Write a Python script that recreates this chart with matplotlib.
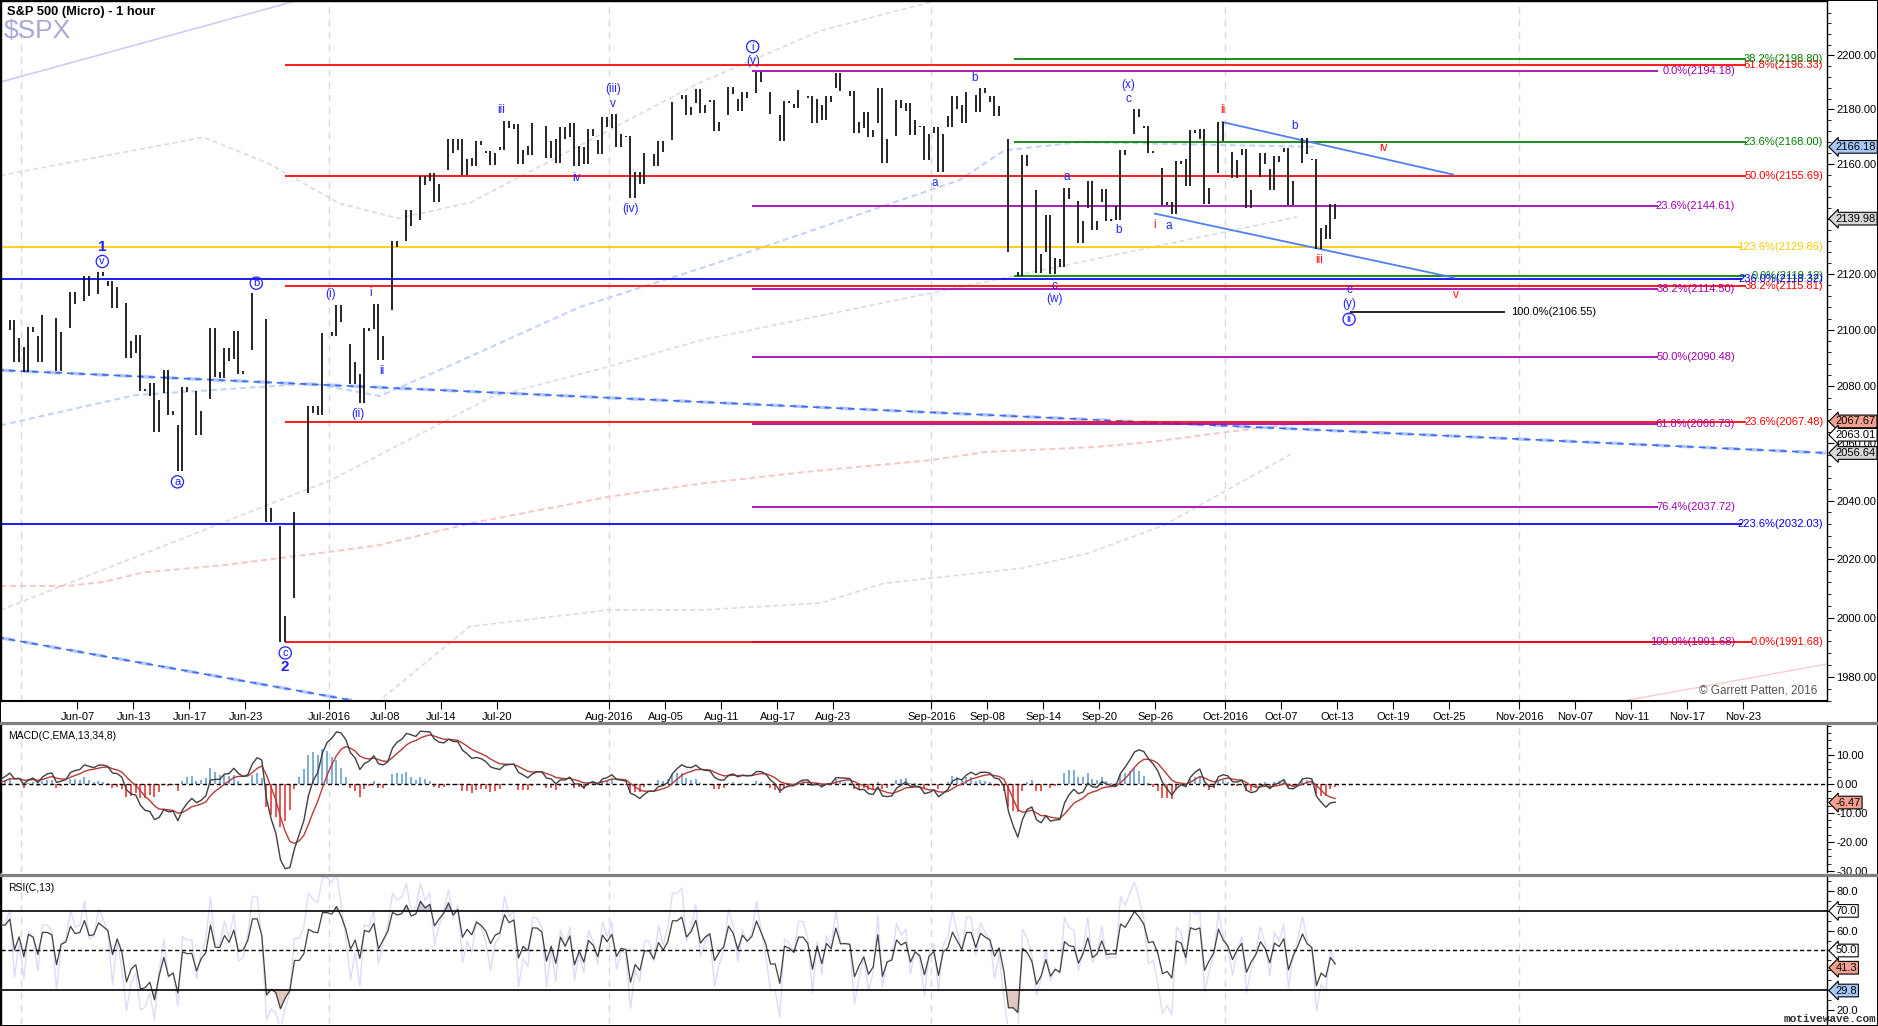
import numpy as np
import matplotlib
matplotlib.use('Agg')
import matplotlib.pyplot as plt
import matplotlib.transforms as mtransforms
from matplotlib.ticker import FixedLocator, FixedFormatter, NullFormatter

plt.rcParams['font.family'] = ['Liberation Sans', 'DejaVu Sans']

# trading calendar (index 0 = 2016-06-01)
holidays = ['2016-05-30', '2016-07-04', '2016-09-05', '2016-11-24']
base_day = '2016-06-01'

def tidx(d):
    return np.busday_count(base_day, d, holidays=holidays)

all_days = np.arange('2016-05-27', '2016-10-13', dtype='datetime64[D]')
days = all_days[np.is_busday(all_days, holidays=holidays)]

# daily S&P 500 values (May 27 .. Oct 12 2016)
opens = [2090.06, 2100.13,
    2093.94, 2097.71, 2104.07, 2100.83, 2110.18, 2112.71, 2115.65, 2109.57, 2091.75, 2076.65, 2077.60,
    2066.36, 2078.20, 2075.58, 2085.19, 2089.75, 2092.80, 2103.81, 2031.45, 2006.67, 2042.69, 2073.17,
    2099.34, 2095.05, 2084.43, 2100.42, 2106.97, 2131.72, 2139.50, 2153.81, 2157.88, 2165.13, 2162.04,
    2163.79, 2166.10, 2172.91, 2166.47, 2173.71, 2168.97, 2169.81, 2166.05, 2168.83,
    2173.15, 2169.94, 2156.81, 2163.51, 2168.79, 2183.76, 2182.24, 2182.81, 2177.97, 2183.74, 2186.08,
    2186.24, 2177.84, 2181.90, 2184.24, 2181.58, 2187.81, 2185.09, 2173.29, 2175.10, 2170.19, 2179.45, 2173.56,
    2171.33, 2177.49, 2181.61, 2185.17, 2182.76, 2169.08, 2120.86, 2150.47, 2127.86, 2125.36, 2146.48,
    2143.99, 2145.94, 2144.58, 2170.94, 2173.29, 2158.54, 2146.04, 2161.85, 2168.90, 2156.51,
    2164.33, 2163.37, 2155.15, 2158.22, 2164.19, 2160.39, 2161.35, 2137.67]
highs = [2099.06, 2103.48,
    2100.97, 2105.26, 2104.07, 2113.36, 2119.22, 2120.55, 2117.64, 2109.57, 2098.12, 2081.30, 2085.65,
    2079.62, 2078.20, 2100.66, 2093.66, 2099.71, 2113.32, 2103.81, 2031.45, 2036.09, 2073.13, 2098.94,
    2108.71, 2095.05, 2100.72, 2109.08, 2131.71, 2143.16, 2155.40, 2156.45, 2169.05, 2169.05, 2168.35,
    2164.63, 2175.63, 2174.56, 2175.11, 2173.71, 2173.54, 2174.98, 2172.85, 2177.09,
    2178.29, 2170.20, 2163.79, 2168.19, 2182.87, 2185.44, 2187.66, 2183.41, 2188.45, 2186.28, 2193.81,
    2186.24, 2183.08, 2187.03, 2185.00, 2184.93, 2193.42, 2186.66, 2179.00, 2187.94, 2183.48, 2182.27, 2173.79,
    2173.56, 2184.87, 2186.57, 2187.87, 2184.94, 2169.08, 2163.30, 2150.47, 2141.33, 2151.31, 2146.48,
    2153.61, 2150.80, 2165.11, 2179.99, 2173.75, 2158.54, 2161.13, 2172.40, 2172.67, 2175.30,
    2164.41, 2165.46, 2163.95, 2162.93, 2165.86, 2169.60, 2161.56, 2145.36]
lows = [2090.06, 2088.66,
    2085.10, 2088.59, 2085.36, 2100.83, 2110.18, 2112.71, 2107.73, 2089.96, 2078.46, 2064.10, 2069.80,
    2050.37, 2062.84, 2075.58, 2083.02, 2084.36, 2092.80, 2032.57, 1991.68, 2006.67, 2042.69, 2070.00,
    2097.90, 2080.86, 2074.02, 2089.39, 2106.97, 2131.72, 2139.50, 2146.21, 2157.88, 2155.79, 2159.07,
    2159.40, 2164.89, 2159.75, 2163.24, 2161.95, 2160.18, 2159.07, 2159.74, 2163.49,
    2166.21, 2147.58, 2152.53, 2159.07, 2168.79, 2177.85, 2178.61, 2172.00, 2177.97, 2179.42, 2186.08,
    2178.14, 2168.50, 2180.46, 2175.13, 2175.96, 2186.80, 2171.25, 2169.74, 2160.39, 2170.19, 2170.41, 2161.35,
    2157.09, 2173.59, 2175.10, 2179.07, 2177.49, 2127.81, 2119.12, 2120.27, 2119.90, 2122.36, 2131.20,
    2135.91, 2139.17, 2139.57, 2170.94, 2163.97, 2145.04, 2141.55, 2151.79, 2145.20, 2156.51,
    2154.77, 2144.01, 2155.15, 2150.28, 2144.85, 2160.39, 2128.84, 2132.77]
closes = [2099.06, 2096.95,
    2099.33, 2105.26, 2099.13, 2109.41, 2112.13, 2119.12, 2115.48, 2096.07, 2079.06, 2075.32, 2071.50,
    2077.99, 2071.22, 2083.25, 2088.90, 2085.45, 2113.32, 2037.41, 2000.54, 2036.09, 2070.77, 2098.86,
    2102.95, 2088.55, 2099.73, 2097.90, 2129.90, 2137.16, 2152.14, 2152.43, 2163.75, 2161.74, 2166.89,
    2163.78, 2173.02, 2165.17, 2175.03, 2168.48, 2169.18, 2166.58, 2170.06, 2173.60,
    2170.84, 2157.03, 2163.79, 2164.25, 2182.87, 2180.89, 2181.74, 2175.49, 2185.79, 2184.05, 2190.15,
    2178.15, 2182.22, 2187.02, 2183.87, 2182.64, 2186.90, 2175.44, 2172.47, 2169.04, 2180.38, 2176.12, 2170.95,
    2170.86, 2179.98, 2186.48, 2186.16, 2181.30, 2127.81, 2159.04, 2127.02, 2125.77, 2147.26, 2139.16,
    2139.12, 2139.76, 2163.12, 2177.18, 2164.69, 2146.10, 2159.93, 2171.37, 2151.13, 2168.27,
    2161.20, 2150.49, 2159.73, 2160.77, 2153.74, 2163.66, 2136.73, 2139.98]

# fibonacci levels: (value, label, colour, start day, line end, label end)
fib_levels = [
    (2196.33, '61.8%(2196.33)', '#ff0000', 18.8, 123.2, 128.7),
    (2155.69, '50.0%(2155.69)', '#ff0000', 18.8, 123.2, 128.7),
    (2115.81, '38.2%(2115.81)', '#ff0000', 18.8, 123.2, 128.7),
    (2067.48, '23.6%(2067.48)', '#ff0000', 18.8, 123.2, 128.7),
    (2198.80, '38.2%(2198.80)', '#008000', 70.9, 123.2, 128.7),
    (2168.00, '23.6%(2168.00)', '#008000', 70.9, 123.2, 128.7),
    (2119.12, '0.0%(2119.12)', '#008000', 70.9, 123.2, 128.7),
    (2118.32, '236.0%(2118.32)', '#0000ff', -1.5, 122.9, 128.7),
    (2032.03, '223.6%(2032.03)', '#0000ff', -1.5, 122.9, 128.7),
    (2129.86, '123.6%(2129.86)', '#ffcc00', -1.5, 122.8, 128.7),
    (2194.18, '0.0%(2194.18)', '#a000b0', 52.2, 116.9, 122.4),
    (2144.61, '23.6%(2144.61)', '#a000b0', 52.2, 116.9, 122.4),
    (2114.50, '38.2%(2114.50)', '#a000b0', 52.2, 116.9, 122.4),
    (2090.48, '50.0%(2090.48)', '#a000b0', 52.2, 116.9, 122.4),
    (2066.73, '61.8%(2066.73)', '#a000b0', 52.2, 116.9, 122.4),
    (2037.72, '76.4%(2037.72)', '#a000b0', 52.2, 116.9, 122.4),
    (1991.68, '100.0%(1991.68)', '#a000b0', 52.2, 116.9, 122.4),
    (1991.68, '0.0%(1991.68)', '#ff0000', 18.8, 123.6, 128.7),
]
black_level = (2106.55, '100.0%(2106.55)', 94.9, 106.0)

# wave labels: text, day, price, colour, style
waves = [
    ('1', 5.77, 2129.7, 'b', 'bold'), ('v', 5.77, 2124.5, 'b', 'circ'),
    ('b', 16.77, 2116.7, 'b', 'circ'), ('a', 11.14, 2046.6, 'b', 'circ'),
    ('c', 18.84, 1988.1, 'b', 'circ'), ('2', 18.79, 1983.2, 'b', 'bold'),
    ('(i)', 22.07, 2112.7, 'b', ''), ('i', 24.96, 2113.2, 'b', ''),
    ('ii', 25.76, 2085.4, 'b', ''), ('(ii)', 24.04, 2070.2, 'b', ''),
    ('iii', 34.24, 2179.6, 'b', ''), ('iv', 39.64, 2154.7, 'b', ''),
    ('(iii)', 42.25, 2187.4, 'b', ''), ('v', 42.25, 2182.1, 'b', ''),
    ('(iv)', 43.53, 2143.6, 'b', ''), ('i', 52.23, 2203.3, 'b', 'circ'),
    ('(v)', 52.23, 2197.8, 'b', ''), ('b', 68.07, 2191.7, 'b', ''),
    ('a', 65.21, 2152.9, 'b', ''), ('(x)', 79.05, 2189.1, 'b', ''),
    ('c', 79.05, 2183.9, 'b', ''), ('a', 74.64, 2155.1, 'b', ''),
    ('b', 78.38, 2135.7, 'b', ''), ('c', 73.79, 2115.7, 'b', ''),
    ('(w)', 73.79, 2110.9, 'b', ''), ('i', 80.96, 2137.5, 'r', ''),
    ('a', 81.95, 2137.3, 'b', ''), ('ii', 85.81, 2179.6, 'r', ''),
    ('b', 90.91, 2173.7, 'b', ''), ('iv', 97.29, 2165.7, 'r', ''),
    ('iii', 92.66, 2124.9, 'r', ''), ('c', 94.83, 2114.2, 'b', ''),
    ('(y)', 94.83, 2109.1, 'b', ''), ('ii', 94.83, 2103.8, 'b', 'circ'),
    ('v', 102.43, 2112.6, 'r', ''),
]

# moving-average style overlays (day, price)
ma_gray_top_x = [-1.5, 13.0, 17.6, 22.7, 26.9, 32.1, 48.5, 57.1, 65.4, 70.0]
ma_gray_top_y = [2155.7, 2169.7, 2160.2, 2145.5, 2140.1, 2145.9, 2190.0, 2209.3, 2220.6, 2230.0]
ma_gray_mid_x = [-1.5, 22.1, 33.6, 41.9, 48.5, 70.8, 91.1]
ma_gray_mid_y = [2002.6, 2047.2, 2076.3, 2086.9, 2096.3, 2119.2, 2140.6]
ma_gray_low_x = [22.0, 25.6, 32.0, 41.9, 48.5, 57.1, 61.6, 71.4, 76.2, 81.6, 90.75]
ma_gray_low_y = [1960.0, 1972.2, 1997.0, 2002.6, 2002.6, 2005.0, 2011.7, 2016.8, 2022.0, 2031.6, 2056.4]
ma_blue_x = [-1.5, 8.1, 20.8, 25.6, 30.4, 39.9, 48.5, 67.0, 70.2, 75.6, 92.5]
ma_blue_y = [2066.3, 2076.9, 2081.0, 2076.6, 2086.9, 2108.2, 2122.0, 2154.0, 2164.9, 2167.9, 2166.18]
ma_pink_x = [-1.5, 3.3, 5.9, 8.7, 14.4, 22.1, 25.6, 32.0, 41.9, 48.5, 57.1, 64.9, 68.9, 76.6, 80.7, 86.0, 92.5]
ma_pink_y = [2010.8, 2010.8, 2012.2, 2015.4, 2017.9, 2022.5, 2024.8, 2032.2, 2041.4, 2046.0, 2050.6,
             2054.1, 2057.0, 2058.7, 2060.5, 2063.9, 2067.67]

# trend lines (day, price)
trend_a = ([-1.5, 128.9], [2085.7, 2056.64])
trend_b = ([-1.5, 23.6], [1993.2, 1972.2])
lav_line = ([-1.5, 19.7], [2190.1, 2220.6])
pink_line = ([114.2, 128.9], [1971.8, 1984.3])
chan_up = ([85.79, 102.29], [2175.3, 2156.0])
chan_dn = ([80.96, 102.29], [2141.8, 2118.7])

tick_dates = ['2016-06-07', '2016-06-13', '2016-06-17', '2016-06-23', '2016-07-01', '2016-07-08',
              '2016-07-14', '2016-07-20', '2016-08-01', '2016-08-05', '2016-08-11', '2016-08-17',
              '2016-08-23', '2016-09-01', '2016-09-08', '2016-09-14', '2016-09-20', '2016-09-26',
              '2016-10-03', '2016-10-07', '2016-10-13', '2016-10-19', '2016-10-25', '2016-11-01',
              '2016-11-07', '2016-11-11', '2016-11-17', '2016-11-23']
tick_labels = ['Jun-07', 'Jun-13', 'Jun-17', 'Jun-23', 'Jul-2016', 'Jul-08', 'Jul-14', 'Jul-20',
               'Aug-2016', 'Aug-05', 'Aug-11', 'Aug-17', 'Aug-23', 'Sep-2016', 'Sep-08', 'Sep-14',
               'Sep-20', 'Sep-26', 'Oct-2016', 'Oct-07', 'Oct-13', 'Oct-19', 'Oct-25', 'Nov-2016',
               'Nov-07', 'Nov-11', 'Nov-17', 'Nov-23']
month_starts = ['2016-06-01', '2016-07-01', '2016-08-01', '2016-09-01', '2016-10-03', '2016-11-01']

# --- build intraday sub-bars: O -> first extreme -> second extreme -> C
day_x = np.array([tidx(str(d)) for d in days], dtype=float)
sub_x, sub_lo, sub_hi, sub_c = [], [], [], []
for d, o, h, l, c in zip(day_x, opens, highs, lows, closes):
    path = [o, l, h, c] if c >= o else [o, h, l, c]
    for k in range(3):
        sub_x.append(d + (k + 0.5) / 3)
        sub_lo.append(min(path[k], path[k + 1]))
        sub_hi.append(max(path[k], path[k + 1]))
        sub_c.append(path[k + 1])
sub_x = np.array(sub_x); sub_c = np.array(sub_c)

scale = 3 / 7.0  # sub-bars per hourly bar

def ema(v, n):
    a = 2.0 / (n + 1)
    out = np.empty_like(v)
    out[0] = v[0]
    for i in range(1, len(v)):
        out[i] = a * v[i] + (1 - a) * out[i - 1]
    return out

def rsi(v, n):
    dv = np.diff(v, prepend=v[0])
    g = np.clip(dv, 0, None); ls = np.clip(-dv, 0, None)
    k = int(round(n))
    ag = np.empty_like(v); al = np.empty_like(v)
    ag[0] = g[1:k + 1].mean(); al[0] = ls[1:k + 1].mean()
    a = 1.0 / n
    for i in range(1, len(v)):
        ag[i] = a * g[i] + (1 - a) * ag[i - 1]
        al[i] = a * ls[i] + (1 - a) * al[i - 1]
    return 100 - 100 / (1 + ag / np.maximum(al, 1e-9))

macd = ema(sub_c, 13 * scale) - ema(sub_c, 34 * scale)
signal = ema(macd, 8 * scale * 1.8)
hist = macd - signal
rsi_main = rsi(sub_c, 8)
rsi_fast = rsi(sub_c, 4)

# --- figure
W, H = 1878, 1026
fig = plt.figure(figsize=(W / 100, H / 100), dpi=100)
def fy(py):
    return 1 - py / H
axw = 1826 / W
ax = fig.add_axes([0.5 / W, fy(701), axw, fy(0.5) - fy(701)])
axm = fig.add_axes([0.5 / W, fy(872), axw, fy(724) - fy(872)])
axr = fig.add_axes([0.5 / W, fy(1024), axw, fy(876) - fy(1024)])

xl = (-1.5, 128.93)
for a in (ax, axm, axr):
    a.set_xlim(*xl)
    for s in a.spines.values():
        s.set_color('black'); s.set_linewidth(1)
    for m in month_starts:
        a.axvline(tidx(m), color='#dadada', lw=1, ls=(0, (5, 4)), zorder=0)

# main panel
ax.set_yscale('log')
ax.set_ylim(1971.96, 2220.6)
ax.yaxis.tick_right()
majors = list(range(1980, 2201, 20))
ax.yaxis.set_major_locator(FixedLocator(majors))
ax.yaxis.set_major_formatter(FixedFormatter(['%.2f' % v for v in majors]))
ax.yaxis.set_minor_locator(FixedLocator([v for v in range(1972, 2220, 4) if v % 20]))
ax.yaxis.set_minor_formatter(NullFormatter())
ax.tick_params(axis='y', which='major', direction='out', length=5, labelsize=8, pad=2)
ax.tick_params(axis='y', which='minor', direction='out', length=3)
ax.set_xticks([tidx(d) for d in tick_dates])
ax.set_xticklabels(tick_labels, fontsize=8)
ax.tick_params(axis='x', direction='out', length=6, pad=2)
ax.spines['bottom'].set_linewidth(1.5)

ax.plot(*lav_line, color='#ccccf6', lw=1.2, zorder=1)
ax.plot(*pink_line, color='#f8cccc', lw=1, zorder=1)
for mx, my in ((ma_gray_top_x, ma_gray_top_y), (ma_gray_mid_x, ma_gray_mid_y), (ma_gray_low_x, ma_gray_low_y)):
    ax.plot(mx, my, color='#dcdcdc', lw=1.2, ls=(0, (3, 2)), zorder=1)
ax.plot(ma_blue_x, ma_blue_y, color='#c0d0f8', lw=1.4, ls=(0, (3, 2)), zorder=1)
ax.plot(ma_pink_x, ma_pink_y, color='#f8c4c4', lw=1.4, ls=(0, (3, 2)), zorder=1)
for tl in (trend_a, trend_b):
    ax.plot(*tl, color='#b4c6fa', lw=2.4, ls=(0, (4, 3)), zorder=1.5)
    ax.plot(*tl, color='#3a6cf0', lw=1.2, ls=(2, (4, 3)), zorder=1.6)

for val, lab, col, x0, x1, xt in fib_levels:
    ax.hlines(val, x0, x1, color=col, lw=1.25, zorder=2 if col != '#ff0000' else 2.2)
    ax.text(xt, val, lab, color=col, fontsize=8, ha='right', va='center', zorder=3)
bv, bl, bx0, bx1 = black_level
ax.hlines(bv, bx0, bx1, color='black', lw=1.2, zorder=2)
ax.text(bx1 + 0.4, bv, bl, color='black', fontsize=8, ha='left', va='center')

ax.plot(*chan_up, color='#5080f0', lw=1.3, zorder=2.5)
ax.plot(*chan_dn, color='#5080f0', lw=1.3, zorder=2.5)

ax.vlines(sub_x, sub_lo, sub_hi, color='black', lw=1.2, zorder=4)

colmap = {'b': '#2020ff', 'r': '#ff1010'}
for t, x, y, c, st in waves:
    kw = dict(color=colmap[c], ha='center', va='center', fontsize=8.5, zorder=5)
    if st == 'bold':
        kw.update(fontsize=11, weight='bold')
    if st == 'circ':
        kw.update(fontsize=8, bbox=dict(boxstyle='circle,pad=0.1', fc='none', ec=colmap[c], lw=0.9))
    ax.text(x, y, t, **kw)

ax.text(0.995, 0.0147, '\u00a9 Garrett Patten, 2016', transform=ax.transAxes,
        ha='right', va='center', fontsize=8.5, color='#555555')

def tag(a, val, txt, fc):
    tr = mtransforms.blended_transform_factory(a.transAxes, a.transData)
    a.text(1.0 + 9 / 1826, val, txt, transform=tr, ha='left', va='center', fontsize=8,
           clip_on=False, zorder=10,
           bbox=dict(boxstyle='larrow,pad=0.12', fc=fc, ec='black', lw=0.8))

tag(ax, 2166.18, '2166.18', '#a8c8f8')
tag(ax, 2139.98, '2139.98', '#d8d8d8')
tag(ax, 2067.67, '2067.67', '#f4a090')
tag(ax, 2063.01, '2063.01', 'white')
tag(ax, 2056.64, '2056.64', '#d8d8d8')

# MACD panel
axm.set_ylim(-30.4, 20.6)
axm.yaxis.tick_right()
axm.set_yticks([-30, -20, -10, 0, 10])
axm.set_yticklabels(['-30.00', '-20.00', '-10.00', '0.00', '10.00'])
axm.yaxis.set_minor_locator(FixedLocator(np.arange(-30, 20.1, 2.5)))
axm.tick_params(axis='y', which='major', direction='out', length=5, labelsize=8, pad=2)
axm.tick_params(axis='y', which='minor', direction='out', length=3)
axm.set_xticks([])
axm.spines['top'].set_visible(False); axm.spines['bottom'].set_visible(False)
axm.axhline(0, color='black', lw=1, ls=(0, (3, 2)), zorder=2)
axm.vlines(sub_x, 0, hist, colors=np.where(hist >= 0, '#5a96cc', '#e02828'), lw=1.1, zorder=1)
axm.plot(sub_x, signal, color='#b83a3a', lw=1, zorder=3)
axm.plot(sub_x, macd, color='#404040', lw=1, zorder=3)
axm.text(0.004, 0.92, 'MACD(C,EMA,13,34,8)', transform=axm.transAxes, fontsize=7.5, va='center')
tag(axm, -6.47, '-6.47', '#f4a090')

# RSI panel
axr.set_ylim(12.9, 87.6)
axr.yaxis.tick_right()
axr.set_yticks([20, 30, 40, 50, 60, 70, 80])
axr.set_yticklabels(['%.1f' % v for v in [20, 30, 40, 50, 60, 70, 80]])
axr.yaxis.set_minor_locator(FixedLocator(np.arange(15, 87, 5)))
axr.tick_params(axis='y', which='major', direction='out', length=5, labelsize=8, pad=2)
axr.tick_params(axis='y', which='minor', direction='out', length=3)
axr.set_xticks([])
axr.spines['top'].set_visible(False); axr.spines['bottom'].set_visible(False)
axr.plot(sub_x, rsi_fast, color='#dcdcfa', lw=1, zorder=1)
axr.fill_between(sub_x, rsi_main, 70, where=rsi_main > 70, interpolate=True, color='#c8c8e0', zorder=2)
axr.fill_between(sub_x, rsi_main, 30, where=rsi_main < 30, interpolate=True, color='#e0c8c0', zorder=2)
axr.plot(sub_x, rsi_main, color='#404040', lw=0.9, zorder=3)
axr.axhline(70, color='black', lw=1.2, zorder=4)
axr.axhline(30, color='black', lw=1.2, zorder=4)
axr.axhline(50, color='black', lw=1, ls=(0, (3, 2)), zorder=4)
axr.text(0.004, 0.92, 'RSI(C,13)', transform=axr.transAxes, fontsize=7.5, va='center')
tag(axr, 70.0, '70.0', 'white')
tag(axr, 50.0, '50.0', 'white')
tag(axr, 41.3, '41.3', '#f4a090')
tag(axr, 29.8, '29.8', '#a8c8f8')

# panel separators, frame and headings
for py in (722.5, 874.5):
    fig.add_artist(plt.Line2D([0, 1], [fy(py)] * 2, color='#808080', lw=2.3, transform=fig.transFigure))
fig.add_artist(plt.Rectangle((0, 0), 1, 1, fill=False, ec='black', lw=1.4, transform=fig.transFigure))
fig.text(7 / W, fy(12), 'S&P 500 (Micro) - 1 hour', fontsize=9.3, weight='bold', va='center')
fig.text(4 / W, fy(31), '$SPX', fontsize=19, color='#a8a8d8', va='center')
fig.text(0.999, fy(1019), 'motivewave.com', ha='right', va='center', fontsize=8, weight='bold',
         family='Liberation Mono', color='#303030')

fig.savefig('out.png', dpi=100)
